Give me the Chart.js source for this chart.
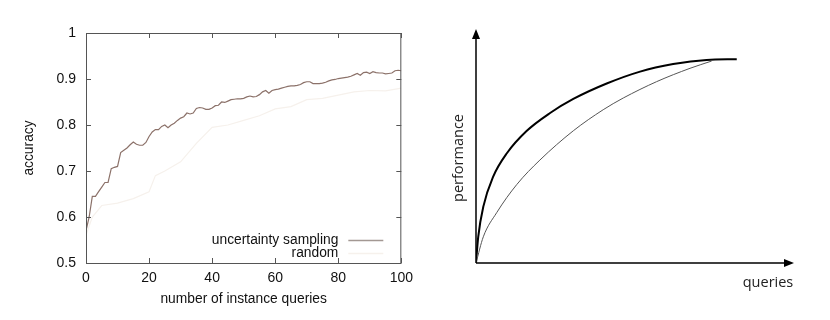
<!DOCTYPE html>
<html>
<head>
<meta charset="utf-8">
<script src="https://cdn.jsdelivr.net/npm/chart.js@4.4.1/dist/chart.umd.min.js"></script>
<style>
  body { margin: 0; background: #fff; width: 830px; height: 320px; position: relative; overflow: hidden; }
  #leftChart { position: absolute; left: 0; top: 0; }
  #rightChart { position: absolute; left: 430px; top: 0; }
</style>
</head>
<body>
<canvas id="leftChart" width="420" height="320"></canvas>
<canvas id="rightChart" width="400" height="320"></canvas>
<script>
// left panel: accuracy vs number of instance queries
const uncertaintyAccuracy = [
  0.57, 0.60, 0.645, 0.645, 0.655, 0.665, 0.675, 0.675, 0.705, 0.708,
  0.71, 0.74, 0.745, 0.75, 0.757, 0.763, 0.758, 0.756, 0.756, 0.762,
  0.775, 0.785, 0.79, 0.79, 0.797, 0.80, 0.794, 0.80, 0.804, 0.81,
  0.815, 0.818, 0.826, 0.824, 0.826, 0.836, 0.838, 0.837, 0.834, 0.834,
  0.837, 0.842, 0.843, 0.85, 0.849, 0.852, 0.855, 0.856, 0.857, 0.857,
  0.858, 0.861, 0.863, 0.861, 0.862, 0.866, 0.872, 0.875, 0.869, 0.875,
  0.877, 0.878, 0.88, 0.882, 0.884, 0.885, 0.885, 0.886, 0.888, 0.892,
  0.894, 0.894, 0.89, 0.89, 0.89, 0.891, 0.893, 0.896, 0.898, 0.899,
  0.901, 0.902, 0.903, 0.904, 0.906, 0.909, 0.912, 0.908, 0.914, 0.915,
  0.912, 0.916, 0.914, 0.913, 0.913, 0.911, 0.912, 0.913, 0.918, 0.919,
  0.918
];
const randomQueries = [0, 2, 5, 10, 15, 20, 22, 25, 30, 35, 40, 45, 50, 55, 60, 65, 70, 75, 80, 85, 90, 95, 100];
const randomAccuracy = [0.56, 0.60, 0.625, 0.63, 0.64, 0.655, 0.69, 0.70, 0.72, 0.76, 0.795, 0.80, 0.81, 0.82, 0.835, 0.84, 0.855, 0.858, 0.865, 0.872, 0.875, 0.874, 0.88];
const legendLabels = ['uncertainty sampling', 'random'];

// right panel: schematic learning curves (axis units 0..100)
const activeX = [0, 0.7, 2.3, 5.4, 9.7, 15.9, 23.3, 30.6, 41.1, 51.6, 62, 72.5, 82];
const activeY = [0, 11.2, 24.1, 36.9, 46.9, 56.4, 64.1, 70.1, 76.7, 81.8, 85, 86.8, 87.1];
const passiveX = [0, 2.3, 6.5, 12.8, 20.1, 30.6, 40, 46.3, 56.8, 67.3, 74.1];
const passiveY = [0, 11.2, 21.5, 33.5, 44, 56.5, 65.5, 70.5, 77.5, 83.2, 86.3];

const usColor = '#8c726a';
const randColor = '#f6f1ec';
const font = 'Liberation Sans, Arial, Helvetica, sans-serif';

// frame, inward ticks and legend for the left plot
const framePlugin = {
  id: 'frame',
  afterDraw(chart) {
    const { ctx, chartArea: a, scales } = chart;
    ctx.save();
    ctx.strokeStyle = '#555';
    ctx.lineWidth = 1;
    ctx.strokeRect(a.left + 0.5, a.top + 0.5, a.right - a.left - 1, a.bottom - a.top);
    ctx.beginPath();
    scales.x.ticks.forEach(t => {
      const px = Math.round(scales.x.getPixelForValue(t.value)) + 0.5;
      ctx.moveTo(px, a.bottom); ctx.lineTo(px, a.bottom - 5);
      ctx.moveTo(px, a.top); ctx.lineTo(px, a.top + 5);
    });
    scales.y.ticks.forEach(t => {
      const py = Math.round(scales.y.getPixelForValue(t.value)) + 0.5;
      ctx.moveTo(a.left, py); ctx.lineTo(a.left + 5, py);
      ctx.moveTo(a.right, py); ctx.lineTo(a.right - 5, py);
    });
    ctx.stroke();

    // legend
    ctx.font = '13.8px ' + font;
    ctx.fillStyle = '#111';
    ctx.textAlign = 'right';
    ctx.textBaseline = 'middle';
    const tx = a.right - 63, y1 = a.bottom - 23, y2 = a.bottom - 10;
    ctx.fillText(legendLabels[0], tx, y1);
    ctx.fillText(legendLabels[1], tx, y2);
    ctx.lineWidth = 1.5;
    ctx.strokeStyle = '#a39893';
    ctx.beginPath(); ctx.moveTo(tx + 10, y1 + 0.5); ctx.lineTo(tx + 45, y1 + 0.5); ctx.stroke();
    ctx.strokeStyle = randColor;
    ctx.beginPath(); ctx.moveTo(tx + 10, y2 + 0.5); ctx.lineTo(tx + 45, y2 + 0.5); ctx.stroke();
    ctx.restore();
  }
};

new Chart(document.getElementById('leftChart'), {
  type: 'line',
  data: {
    datasets: [
      {
        label: legendLabels[1],
        data: randomQueries.map((q, i) => ({ x: q, y: randomAccuracy[i] })),
        borderColor: randColor,
        borderWidth: 1.2,
        pointRadius: 0,
        tension: 0
      },
      {
        label: legendLabels[0],
        data: uncertaintyAccuracy.map((v, i) => ({ x: i, y: v })),
        borderColor: usColor,
        borderWidth: 1.2,
        pointRadius: 0,
        tension: 0
      }
    ]
  },
  options: {
    responsive: false,
    animation: false,
    layout: { padding: { left: 0, top: 33, right: 14, bottom: 0 } },
    plugins: { legend: { display: false }, tooltip: { enabled: false } },
    scales: {
      x: {
        type: 'linear', min: 0, max: 100,
        grid: { display: false, drawTicks: false },
        border: { display: false },
        ticks: { stepSize: 20, padding: 7, color: '#111', font: { family: font, size: 14 }, maxRotation: 0 },
        title: { display: true, text: 'number of instance queries', color: '#111', font: { family: font, size: 13.8 }, padding: { top: 0, bottom: 13 } },
        afterFit(s) { s.height = 57; }
      },
      y: {
        min: 0.5, max: 1,
        grid: { display: false, drawTicks: false },
        border: { display: false },
        ticks: { stepSize: 0.1, padding: 10, color: '#111', font: { family: font, size: 14 },
          callback: v => (Math.round(v * 10) / 10).toString() },
        title: { display: true, text: 'accuracy', color: '#111', font: { family: font, size: 13.8 }, padding: { top: 21, bottom: 0 } },
        afterFit(s) { s.width = 86; }
      }
    }
  },
  plugins: [framePlugin]
});

// arrows and labels for the schematic
const arrowPlugin = {
  id: 'arrows',
  afterDraw(chart) {
    const { ctx, chartArea: a } = chart;
    ctx.save();
    ctx.strokeStyle = '#000';
    ctx.fillStyle = '#000';
    ctx.lineWidth = 1.5;
    ctx.beginPath();
    ctx.moveTo(a.left, a.bottom); ctx.lineTo(a.left, a.top + 6);
    ctx.moveTo(a.left, a.bottom); ctx.lineTo(a.right - 6, a.bottom);
    ctx.stroke();
    ctx.beginPath();
    ctx.moveTo(a.left, a.top); ctx.lineTo(a.left - 4, a.top + 10); ctx.lineTo(a.left + 4, a.top + 10); ctx.closePath();
    ctx.fill();
    ctx.beginPath();
    ctx.moveTo(a.right, a.bottom); ctx.lineTo(a.right - 10, a.bottom - 4); ctx.lineTo(a.right - 10, a.bottom + 4); ctx.closePath();
    ctx.fill();

    ctx.font = '14.5px "Open Sans", "Noto Sans", sans-serif';
    ctx.fillStyle = '#222';
    ctx.textAlign = 'center';
    ctx.textBaseline = 'middle';
    ctx.fillText('queries', a.right - 26, a.bottom + 20);
    ctx.translate(a.left - 17, (a.top + a.bottom) / 2 + 12);
    ctx.rotate(-Math.PI / 2);
    ctx.fillText('performance', 0, 0);
    ctx.restore();
  }
};

new Chart(document.getElementById('rightChart'), {
  type: 'line',
  data: {
    datasets: [
      {
        data: passiveX.map((x, i) => ({ x: x, y: passiveY[i] })),
        borderColor: '#555',
        borderWidth: 1,
        pointRadius: 0,
        cubicInterpolationMode: 'monotone'
      },
      {
        data: activeX.map((x, i) => ({ x: x, y: activeY[i] })),
        borderColor: '#000',
        borderWidth: 2,
        pointRadius: 0,
        cubicInterpolationMode: 'monotone'
      }
    ]
  },
  options: {
    responsive: false,
    animation: false,
    layout: { padding: { left: 46, top: 29, right: 36, bottom: 57 } },
    plugins: { legend: { display: false }, tooltip: { enabled: false } },
    scales: {
      x: { type: 'linear', min: 0, max: 100, display: false },
      y: { min: 0, max: 100, display: false }
    }
  },
  plugins: [arrowPlugin]
});
</script>
</body>
</html>
